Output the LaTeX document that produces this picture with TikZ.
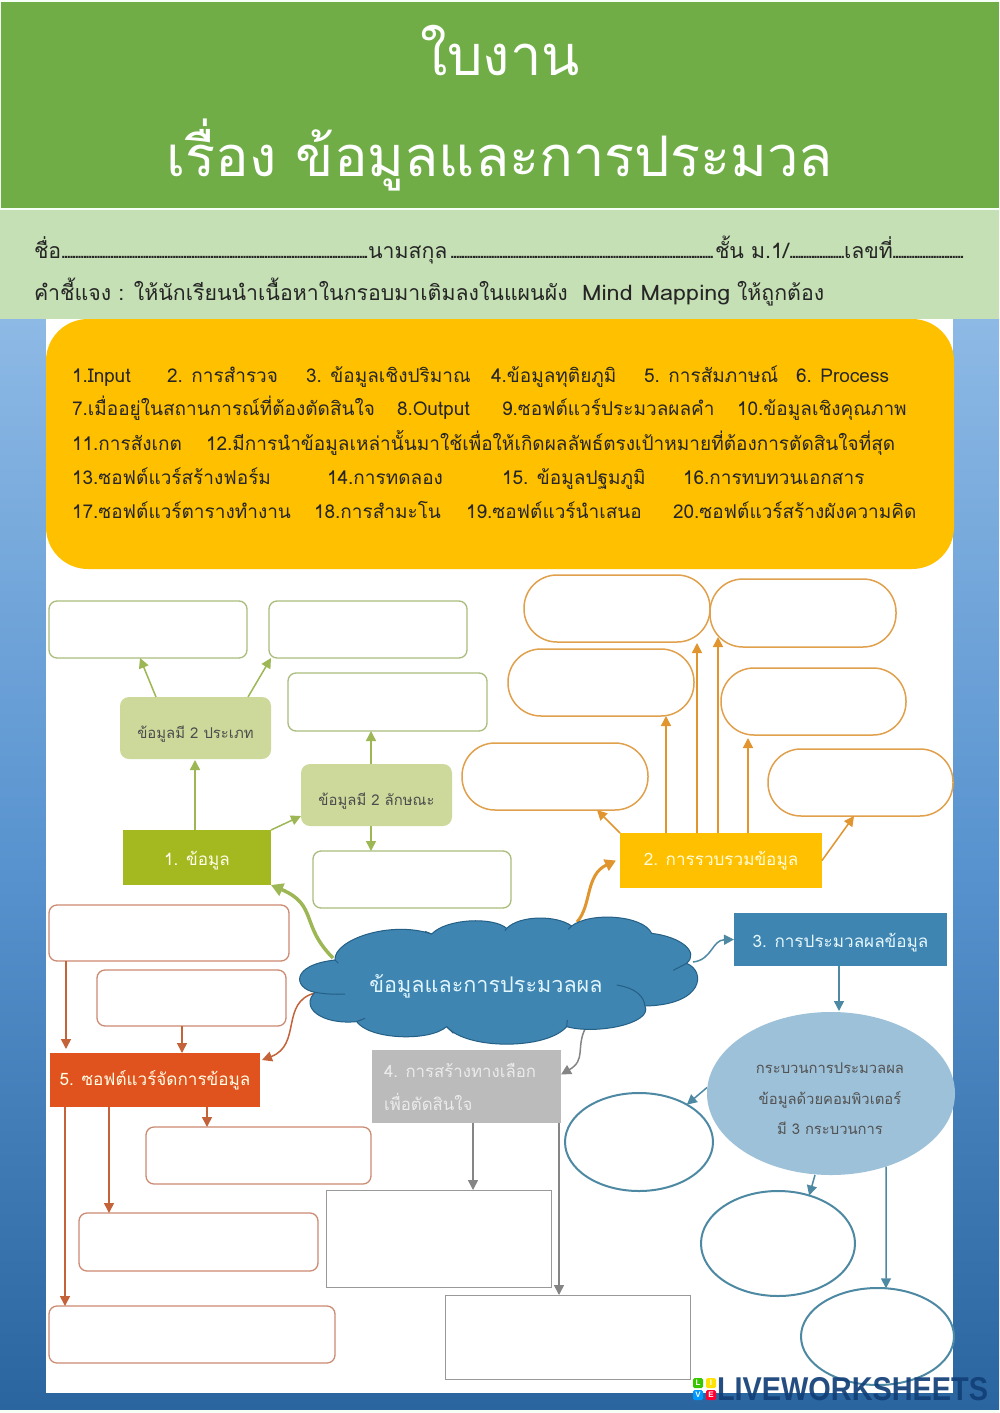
\documentclass[tikz,border=0pt]{standalone}
\usepackage{fontspec}
\usepackage{graphicx}
\setmainfont[Script=Thai]{Loma}
\newfontfamily\logofont[Scale=1]{Liberation Sans}
\usetikzlibrary{arrows.meta,shapes.geometric}
\definecolor{cgreen}{HTML}{70AD47}
\definecolor{clight}{HTML}{C5E0B4}
\definecolor{camber}{HTML}{FFC000}
\definecolor{golive}{HTML}{A9BC7B}
\definecolor{goarrow}{HTML}{9DB755}
\definecolor{gofill}{HTML}{CDD99B}
\definecolor{goone}{HTML}{A4B820}
\definecolor{orline}{HTML}{E0A04C}
\definecolor{orarrow}{HTML}{E0952F}
\definecolor{blfill}{HTML}{3F85B1}
\definecolor{bledge}{HTML}{245F86}
\definecolor{blline}{HTML}{4E89A3}
\definecolor{blell}{HTML}{9DC1D9}
\definecolor{grfill}{HTML}{BBBBBB}
\definecolor{grline}{HTML}{999999}
\definecolor{grarrow}{HTML}{858585}
\definecolor{rdfill}{HTML}{E0531E}
\definecolor{rdline}{HTML}{CB8A72}
\definecolor{rdarrow}{HTML}{C4623A}
\definecolor{navy}{HTML}{123F78}
\tikzset{
  plain/.style={inner sep=0pt,outer sep=0pt},
  listitem/.style={plain,anchor=base west,font=\fontsize{19}{20}\selectfont,text=black!85},
  formtext/.style={plain,anchor=base west,font=\fontsize{21.3}{22}\selectfont,text=black!85},
  gbox/.style={plain,draw=golive,line width=1.3pt,rounded corners=8pt,fill=white},
  gsolid/.style={plain,fill=gofill,rounded corners=9pt,font=\fontsize{14.9}{18}\selectfont,text=black!70,text height=20pt,text depth=0pt},
  opill/.style={plain,draw=orline,line width=1.5pt,rounded corners=33pt,fill=white},
  rbox/.style={plain,draw=rdline,line width=1.3pt,rounded corners=8pt,fill=white},
  grect/.style={plain,draw=grline,line width=1pt,fill=white},
  ering/.style={plain,ellipse,draw=blline,line width=2pt,fill=white},
  head/.style={plain,font=\fontsize{17.1}{20}\selectfont,text depth=0pt},
  garrow/.style={draw=goarrow,line width=1.5pt,-{Triangle[length=10pt,width=10pt,fill=goarrow]}},
  oarrow/.style={draw=orarrow,line width=1.5pt,-{Triangle[length=10pt,width=10pt,fill=orarrow]}},
  barrow/.style={draw=blline,line width=1.5pt,-{Triangle[length=10pt,width=10pt,fill=blline]}},
  karrow/.style={draw=grarrow,line width=1.5pt,-{Triangle[length=10pt,width=10pt,fill=grarrow]}},
  rarrow/.style={draw=rdarrow,line width=1.5pt,-{Triangle[length=10pt,width=10pt,fill=rdarrow]}},
  eltext/.style={plain,anchor=base,font=\fontsize{14.8}{18}\selectfont,text=black!68},
  logobox/.style={plain,minimum size=10pt,rounded corners=1.5pt,text=white,font=\logofont\bfseries\fontsize{8}{8}\selectfont},
}
\newcommand\bx[7]{%
  \pgfmathsetmacro\cxx{(#3+#5)/2}\pgfmathsetmacro\cyy{(#4+#6)/2}%
  \pgfmathsetmacro\wdd{#5-#3}\pgfmathsetmacro\htt{#6-#4}%
  \node[#1,minimum width=\wdd pt,minimum height=\htt pt] (#2) at (\cxx,\cyy) {#7};}
\newcommand\dts[1]{\hbox to #1pt{\leaders\hbox to 2.7pt{\hss.\hss}\hfill}}
\begin{document}
\begin{tikzpicture}[x=1pt,y=-1pt]
\useasboundingbox (0,0) rectangle (999,1413);
\fill[white!96!green] (0,0) rectangle (999,1413);
% page background
\path[top color={rgb,255:red,141;green,185;blue,229},bottom color={rgb,255:red,42;green,101;blue,159},middle color={rgb,255:red,88;green,147;blue,207}] (0,318) rectangle (999,1409);
\fill[white] (46,318) rectangle (953,1393);
% title
\fill[cgreen] (1,2) rectangle (999,208);
\fill[clight] (0,210) rectangle (999,319);
\node[plain,anchor=base,text=white,font=\fontsize{56}{64}\selectfont] (title1) at (500,75) {ใบงาน};
\node[plain,anchor=base,text=white,font=\fontsize{56}{64}\selectfont] (title2) at (500,176) {เรื่อง ข้อมูลและการประมวล};
% form lines
\node[formtext] (f1) at (34,258) {ชื่อ};
\node[formtext] (f2) at (62,258) {\dts{306}};
\node[formtext] (f3) at (368,258) {นามสกุล};
\node[formtext] (f4) at (451,258) {\dts{264}};
\node[formtext] (f5) at (715,258) {ชั้น ม.1/};
\node[formtext] (f6) at (790,258) {\dts{54}};
\node[formtext] (f7) at (844,258) {เลขที่};
\node[formtext] (f8) at (893,258) {\dts{72}};
\node[formtext] (f9) at (34,300) {คำชี้แจง : ให้นักเรียนนำเนื้อหาในกรอบมาเติมลงในแผนผัง};
\node[formtext] (f10) at (582,300) {\scalebox{1.1}[1]{Mind Mapping}};
\node[formtext] (f11) at (737,300) {ให้ถูกต้อง};
% list panel
\fill[camber,rounded corners=42pt] (46,319) rectangle (954,569);
\node[listitem] (a1) at (72,382) {1.Input};
\node[listitem] (a2) at (167,382) {2. การสำรวจ};
\node[listitem] (a3) at (306,382) {3. ข้อมูลเชิงปริมาณ};
\node[listitem] (a4) at (491,382) {4.ข้อมูลทุติยภูมิ};
\node[listitem] (a5) at (644,382) {5. การสัมภาษณ์};
\node[listitem] (a6) at (796,382) {6. Process};
\node[listitem] (b1) at (72,415) {7.เมื่ออยู่ในสถานการณ์ที่ต้องตัดสินใจ};
\node[listitem] (b2) at (397,415) {8.Output};
\node[listitem] (b3t) at (502,415) {9.ซอฟต์แวร์ประมวลผลคำ};
\node[listitem] (b4t) at (737,415) {10.ข้อมูลเชิงคุณภาพ};
\node[listitem] (c1t) at (72,450) {11.การสังเกต};
\node[listitem] (c2t) at (206,450) {12.มีการนำข้อมูลเหล่านั้นมาใช้เพื่อให้เกิดผลลัพธ์ตรงเป้าหมายที่ต้องการตัดสินใจที่สุด};
\node[listitem] (d1) at (72,484) {13.ซอฟต์แวร์สร้างฟอร์ม};
\node[listitem] (d2) at (327,484) {14.การทดลอง};
\node[listitem] (d3) at (502,484) {15. ข้อมูลปฐมภูมิ};
\node[listitem] (d4) at (683,484) {16.การทบทวนเอกสาร};
\node[listitem] (e1t) at (72,518) {17.ซอฟต์แวร์ตารางทำงาน};
\node[listitem] (e2t) at (314,518) {18.การสำมะโน};
\node[listitem] (e3t) at (466,518) {19.ซอฟต์แวร์นำเสนอ};
\node[listitem] (e4t) at (673,518) {20.ซอฟต์แวร์สร้างผังความคิด};
% green group
\bx{gbox}{g1}{49}{601}{247}{658}{}
\bx{gbox}{g2}{269}{601}{467}{658}{}
\bx{gbox}{g3}{288}{673}{487}{731}{}
\bx{gbox}{g4}{313}{851}{511}{908}{}
\bx{gsolid}{tb}{120}{697}{271}{759}{ข้อมูลมี 2 ประเภท}
\bx{gsolid}{lb}{301}{764}{452}{826}{ข้อมูลมี 2 ลักษณะ}
\bx{head,text height=15pt,fill=goone,text=white!92!yellow}{c1}{123}{830}{271}{885}{1. ข้อมูล}
% orange group
\bx{opill}{o1}{524}{575}{710}{642}{}
\bx{opill}{o2}{710}{579}{896}{647}{}
\bx{opill}{o3}{508}{649}{694}{716}{}
\bx{opill}{o4}{721}{668}{906}{735}{}
\bx{opill}{o5}{462}{743}{648}{810}{}
\bx{opill}{o6}{768}{749}{953}{816}{}
\bx{head,text height=9pt,fill=camber,text=white!85!yellow}{bo}{620}{833}{822}{888}{2. การรวบรวมข้อมูล}
% blue group
\bx{head,text height=15pt,fill=blfill,text=white!90!cyan}{b3}{734}{913}{947}{966}{3. การประมวลผลข้อมูล}
\node[plain,ellipse,fill=blell,minimum width=248pt,minimum height=163pt] (el) at (831,1093.5) {};
\node[eltext] (el1) at (830,1073) {กระบวนการประมวลผล};
\node[eltext] (el2) at (830,1104) {ข้อมูลด้วยคอมพิวเตอร์};
\node[eltext] (el3) at (830,1134) {มี 3 กระบวนการ};
\node[ering,minimum width=148pt,minimum height=98pt] (e1) at (639,1142) {};
\node[ering,minimum width=154pt,minimum height=105pt] (e2) at (778,1243.5) {};
\node[ering,minimum width=153pt,minimum height=97pt] (e3) at (877.5,1336.5) {};
% gray group
\bx{plain,fill=grfill}{b4}{372}{1050}{561}{1123}{}
\node[head,anchor=base west,text=white!92!black,font=\fontsize{16.8}{20}\selectfont] (b4a) at (384,1077) {4. การสร้างทางเลือก};
\node[head,anchor=base west,text=white!92!black,font=\fontsize{16.8}{20}\selectfont] (b4b) at (384,1110) {เพื่อตัดสินใจ};
\bx{grect}{k1}{326}{1190}{551}{1287}{}
\bx{grect}{k2}{445}{1295}{690}{1379}{}
% red group
\bx{rbox}{r1}{49}{905}{289}{961}{}
\bx{rbox}{r2}{97}{970}{286}{1026}{}
\bx{rbox}{r3}{146}{1127}{371}{1184}{}
\bx{rbox}{r4}{79}{1213}{318}{1271}{}
\bx{rbox}{r5}{49}{1306}{335}{1363}{}
\bx{head,text height=10pt,fill=rdfill,text=white!90!yellow}{b5}{50}{1053}{260}{1107}{5. ซอฟต์แวร์จัดการข้อมูล}
% connector anchors on the cloud
\coordinate (cG) at (333,958);
\coordinate (cO) at (577,922);
\coordinate (cB) at (693,962);
\coordinate (cK) at (585,1029);
\coordinate (cR) at (315,993);
% connectors leaving the cloud (drawn below it)
\draw[goarrow,line width=3.5pt,-{Triangle[length=12pt,width=13pt,fill=goarrow]}] (cG) .. controls (300,925) and (318,905) .. (c1.south east);
\draw[orarrow,line width=3pt,-{Triangle[length=11pt,width=12pt,fill=orarrow]}] (cO) .. controls (592,905) and (585,875) .. ([xshift=-4pt]bo.west);
\draw[barrow] (cB) .. controls (712,960) and (712,940) .. (b3.west);
\draw[karrow] (cK) .. controls (576,1048) and (586,1060) .. ([yshift=12pt]b4.east);
\draw[rarrow] (cR) .. controls (280,1002) and (302,1045) .. ([xshift=2pt,yshift=-7pt]b5.north east);
% cloud
\begin{scope}[shift={(290,910)},x=.3333pt,y=-.3333pt]
\draw[fill=blfill,draw=bledge,line width=1pt]
 (135,150) .. controls (130,90) and (300,30) .. (425,72)
 .. controls (470,25) and (610,20) .. (650,55)
 .. controls (690,15) and (800,15) .. (845,48)
 .. controls (900,5) and (1060,15) .. (1085,70)
 .. controls (1170,80) and (1230,125) .. (1190,160)
 .. controls (1250,185) and (1240,285) .. (1065,288)
 .. controls (1090,340) and (920,375) .. (830,350)
 .. controls (770,420) and (530,420) .. (470,350)
 .. controls (420,395) and (240,390) .. (200,335)
 .. controls (90,345) and (30,290) .. (75,247)
 .. controls (10,235) and (0,165) .. (135,150) -- cycle;
\draw[bledge,line width=1pt] (75,247) .. controls (105,252) and (135,254) .. (165,252);
\draw[bledge,line width=1pt] (980,225) .. controls (1040,235) and (1062,260) .. (1065,288);
\draw[bledge,line width=1pt] (1190,160) -- (1150,181);
\draw[bledge,line width=1pt] (845,48) -- (835,58);
\draw[bledge,line width=1pt] (650,55) -- (645,62);
\draw[bledge,line width=1pt] (425,72) -- (405,64);
\draw[bledge,line width=1pt] (200,335) -- (225,325);
\draw[bledge,line width=1pt] (470,350) -- (490,370);
\draw[bledge,line width=1pt] (830,350) -- (832,330);
\draw[bledge,line width=1pt] (135,150) -- (145,160);
\end{scope}
\node[plain,anchor=base,text=white!88!cyan,font=\fontsize{21.6}{26}\selectfont] (cl) at (486,992) {ข้อมูลและการประมวลผล};
% green connectors
\draw[garrow] ([xshift=-39.5pt]tb.north) -- ([xshift=-8pt]g1.south);
\draw[garrow] ([xshift=52.5pt]tb.north) -- ([xshift=2pt]g2.south west);
\draw[garrow] ([xshift=-2pt]c1.north) -- ([xshift=-.5pt,yshift=-1pt]tb.south);
\draw[garrow] (c1.north east) -- ([yshift=-21pt]lb.west);
\draw[garrow] ([xshift=-5.5pt]lb.north) -- ([xshift=-16.5pt]g3.south);
\draw[garrow] ([xshift=-5.5pt]lb.south) -- ([xshift=-41pt]g4.north);
% orange connectors
\draw[oarrow] (bo.north west) -- ([xshift=42pt]o5.south);
\draw[oarrow] ([xshift=-55pt]bo.north) -- ([xshift=65pt]o3.south);
\draw[oarrow] ([xshift=-24pt]bo.north) -- ([xshift=80pt,yshift=-1pt]o1.south);
\draw[oarrow] ([xshift=-3pt]bo.north) -- ([xshift=-85pt,yshift=10pt]o2.south);
\draw[oarrow] ([xshift=27pt]bo.north) -- ([xshift=-65.5pt,yshift=-3pt]o4.south);
\draw[oarrow] (bo.east) -- ([xshift=-6.5pt]o6.south);
% blue connectors
\draw[barrow] ([xshift=-1.5pt]b3.south) -- ([xshift=8pt,yshift=1pt]el.north);
\draw[barrow] ([yshift=6pt]el.west) -- (e1.38);
\draw[barrow] ([xshift=-16pt]el.south) -- (e2.57);
\draw[barrow] (el.-53) -- (e3.80);
% gray connectors
\draw[karrow] ([xshift=6.5pt]b4.south) -- ([xshift=34.5pt]k1.north);
\draw[karrow] ([xshift=92.5pt]b4.south) -- ([xshift=-8.5pt]k2.north);
% red connectors
\draw[rarrow] ([xshift=-103pt]r1.south) -- ([xshift=-89pt,yshift=4pt]b5.north);
\draw[rarrow] ([xshift=-9.5pt]r2.south) -- ([xshift=27pt]b5.north);
\draw[rarrow] ([xshift=52pt]b5.south) -- ([xshift=-51.5pt]r3.north);
\draw[rarrow] ([xshift=-46pt]b5.south) -- ([xshift=-89.5pt]r4.north);
\draw[rarrow] ([xshift=-90pt]b5.south) -- ([xshift=-127pt]r5.north);
% logo
\node[logobox,fill=green!55!olive] (lL) at (698,1383) {L};
\node[logobox,fill=yellow!85!orange] (lI) at (711,1383) {I};
\node[logobox,fill=blue!40!cyan] (lV) at (698,1395) {V};
\node[logobox,fill=red!80!magenta] (lE) at (711,1395) {E};
\node[plain,anchor=west,text=navy,opacity=.92] (logo) at (717,1389) {\scalebox{.875}[1]{\logofont\bfseries\fontsize{33}{34}\selectfont LIVEWORKSHEETS}};
\end{tikzpicture}
\end{document}
